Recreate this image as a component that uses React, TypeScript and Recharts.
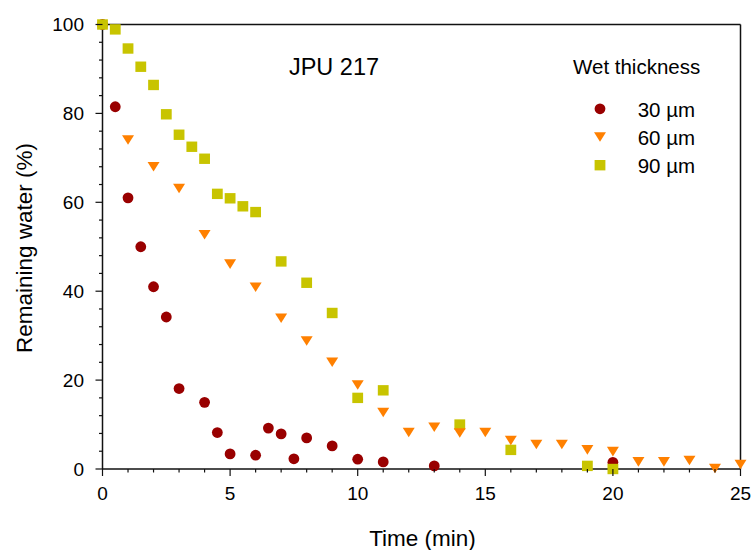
import { ScatterChart, Scatter, XAxis, YAxis, ReferenceLine, Legend, Label } from "recharts";

const FONT = "'Liberation Sans', Arial, sans-serif";

// time (min) vs remaining water (%) per wet film thickness
const time30 = [0, 0.5, 1, 1.5, 2, 2.5, 3, 4, 4.5, 5, 6, 6.5, 7, 7.5, 8, 9, 10, 11, 13, 20];
const water30 = [100, 81.5, 61, 50, 41, 34.2, 18.1, 15, 8.2, 3.4, 3.1, 9.2, 7.9, 2.3, 7, 5.2, 2.2, 1.6, 0.7, 1.5];

const time60 = [1, 2, 3, 4, 5, 6, 7, 8, 9, 10, 11, 12, 13, 14, 15, 16, 17, 18, 19, 20, 21, 22, 23, 24, 25];
const water60 = [74, 68, 63.1, 52.7, 46.1, 40.9, 33.9, 28.8, 24, 18.9, 12.7, 8.2, 9.4, 8.1, 8.2, 6.4, 5.5, 5.5, 4.3, 3.9, 1.6, 1.6, 1.9, 0.1, 1.0];

const time90 = [0, 0.5, 1, 1.5, 2, 2.5, 3, 3.5, 4, 4.5, 5, 5.5, 6, 7, 8, 9, 10, 11, 14, 16, 19, 20];
const water90 = [100, 98.9, 94.6, 90.5, 86.4, 79.8, 75.2, 72.5, 69.8, 61.9, 60.9, 59.1, 57.8, 46.7, 41.9, 35.1, 16, 17.7, 10, 4.3, 0.7, 0];

const X_TICKS = [0, 1, 2, 3, 4, 5, 6, 7, 8, 9, 10, 11, 12, 13, 14, 15, 16, 17, 18, 19, 20, 21, 22, 23, 24, 25];
const X_LABELS = [0, 5, 10, 15, 20, 25];
const Y_TICKS = [0, 4, 8, 12, 16, 20, 24, 28, 32, 36, 40, 44, 48, 52, 56, 60, 64, 68, 72, 76, 80, 84, 88, 92, 96, 100];
const Y_LABELS = [0, 20, 40, 60, 80, 100];

const COLORS = {
  c30: "#990000",
  c60: "#ff8000",
  c90: "#c8c400",
};

const AXIS = "#111";

const zip = (xs: number[], ys: number[]) => xs.map((x, i) => ({ x, y: ys[i] }));

const Circle = ({ cx, cy, fill }: any) => <circle cx={cx} cy={cy} r={5.4} fill={fill} />;
const Square = ({ cx, cy, fill }: any) => <rect x={cx - 5.4} y={cy - 5.2} width={10.8} height={10.4} fill={fill} />;
const DownTri = ({ cx, cy, fill }: any) => (
  <path d={`M${cx - 6},${cy - 4.8} L${cx + 6},${cy - 4.8} L${cx},${cy + 4.8} Z`} fill={fill} />
);

const XTick = ({ x, y, payload }: any) => {
  const major = X_LABELS.includes(payload.value);
  return (
    <g>
      <line x1={x} y1={y} x2={x} y2={y + (major ? 7 : 3.5)} stroke={AXIS} strokeWidth={1.2} />
      {major && (
        <text x={x} y={y + 31} textAnchor="middle" fontSize={19} fontFamily={FONT} fill="#000">
          {payload.value}
        </text>
      )}
    </g>
  );
};

const YTick = ({ x, y, payload }: any) => {
  const major = Y_LABELS.includes(payload.value);
  return (
    <g>
      <line x1={x} y1={y} x2={x - (major ? 7 : 3.5)} y2={y} stroke={AXIS} strokeWidth={1.2} />
      {major && (
        <text x={x - 18.5} y={y + 6.7} textAnchor="end" fontSize={19} fontFamily={FONT} fill="#000">
          {payload.value}
        </text>
      )}
    </g>
  );
};

const legendItems = [
  { name: "30 µm", color: COLORS.c30, Shape: Circle },
  { name: "60 µm", color: COLORS.c60, Shape: DownTri },
  { name: "90 µm", color: COLORS.c90, Shape: Square },
];

const renderLegend = () => (
  <svg width={753} height={550} style={{ position: "absolute", left: 0, top: 0 }}>
    <text x={334} y={75} textAnchor="middle" fontSize={23.5} fontFamily={FONT} fill="#000">
      JPU 217
    </text>
    <text x={573} y={74.3} fontSize={20.5} fontFamily={FONT} fill="#000">
      Wet thickness
    </text>
    {legendItems.map((item, i) => {
      const yc = 109.8 + i * 28.2;
      return (
        <g key={item.name}>
          <item.Shape cx={600} cy={yc - 1} fill={item.color} />
          <text x={637.7} y={yc + 7} fontSize={20.5} fontFamily={FONT} fill="#000">
            {item.name}
          </text>
        </g>
      );
    })}
  </svg>
);

export default function App() {
  return (
    <div style={{ position: "absolute", left: 0, top: 0, width: 753, height: 550, background: "#fff" }}>
      <ScatterChart width={753} height={550} margin={{ top: 24.5, right: 12.5, bottom: 0, left: 32.5 }}>
        <XAxis
          type="number"
          dataKey="x"
          domain={[0, 25]}
          ticks={X_TICKS}
          interval={0}
          tickSize={0}
          tickMargin={0}
          tickLine={false}
          tick={<XTick />}
          height={81}
          axisLine={{ stroke: AXIS, strokeWidth: 1.5 }}
        >
          <Label
            content={() => (
              <text x={422.5} y={546} textAnchor="middle" fontSize={22.5} fontFamily={FONT} fill="#000">
                Time (min)
              </text>
            )}
          />
        </XAxis>
        <YAxis
          type="number"
          dataKey="y"
          domain={[0, 100]}
          ticks={Y_TICKS}
          interval={0}
          tickSize={0}
          tickMargin={0}
          tickLine={false}
          tick={<YTick />}
          width={70}
          axisLine={{ stroke: AXIS, strokeWidth: 1.5 }}
        >
          <Label
            content={() => (
              <text
                x={31.5}
                y={248}
                transform="rotate(-90 31.5 248)"
                textAnchor="middle"
                fontSize={22.5}
                fontFamily={FONT}
                fill="#000"
              >
                Remaining water (%)
              </text>
            )}
          />
        </YAxis>
        <ReferenceLine y={100} stroke={AXIS} strokeWidth={1.5} />
        <ReferenceLine x={25} stroke={AXIS} strokeWidth={1.5} />
        <Scatter name="30 µm" data={zip(time30, water30)} fill={COLORS.c30} shape={<Circle />} isAnimationActive={false} />
        <Scatter name="90 µm" data={zip(time90, water90)} fill={COLORS.c90} shape={<Square />} isAnimationActive={false} />
        <Scatter name="60 µm" data={zip(time60, water60)} fill={COLORS.c60} shape={<DownTri />} isAnimationActive={false} />
        <Legend
          layout="vertical"
          align="center"
          verticalAlign="middle"
          content={renderLegend}
          wrapperStyle={{ left: 0, top: 0, width: 753, height: 550, pointerEvents: "none" }}
        />
      </ScatterChart>
    </div>
  );
}
